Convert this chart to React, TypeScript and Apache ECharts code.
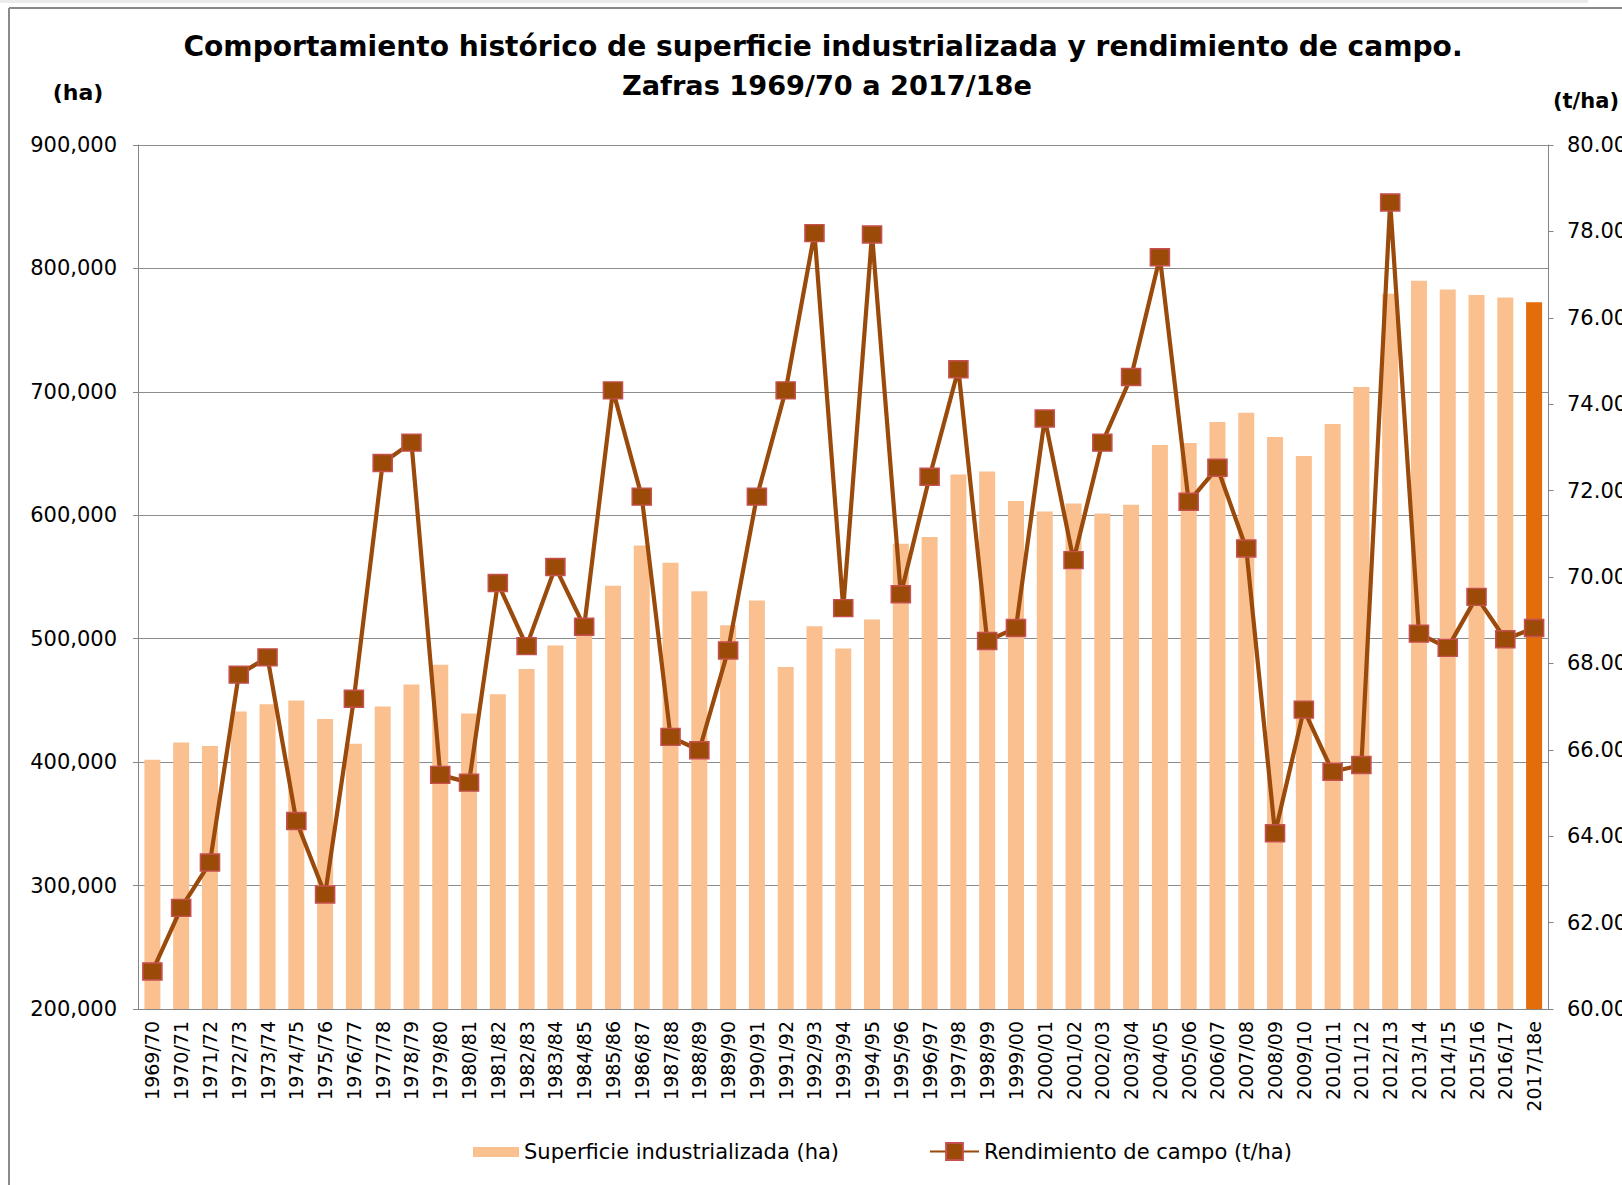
import React, { useEffect, useRef } from "react";
import * as echarts from "echarts";

const categories = [
  "1969/70", "1970/71", "1971/72", "1972/73", "1973/74", "1974/75", "1975/76", "1976/77",
  "1977/78", "1978/79", "1979/80", "1980/81", "1981/82", "1982/83", "1983/84", "1984/85",
  "1985/86", "1986/87", "1987/88", "1988/89", "1989/90", "1990/91", "1991/92", "1992/93",
  "1993/94", "1994/95", "1995/96", "1996/97", "1997/98", "1998/99", "1999/00", "2000/01",
  "2001/02", "2002/03", "2003/04", "2004/05", "2005/06", "2006/07", "2007/08", "2008/09",
  "2009/10", "2010/11", "2011/12", "2012/13", "2013/14", "2014/15", "2015/16", "2016/17",
  "2017/18e",
];

const superficie = [
  402000, 416000, 413000, 441000, 447000, 450000, 435000, 415000,
  445000, 463000, 479000, 439500, 455000, 475500, 494500, 512000,
  543000, 575500, 561500, 538500, 511000, 531000, 477000, 510000,
  492000, 515500, 577000, 582500, 633000, 635500, 611500, 603000,
  609500, 601500, 608500, 657000, 658500, 675500, 683000, 663500,
  648000, 674000, 704000, 779500, 790000, 783000, 778500, 776500,
  772500,
];

const rendimiento = [
  60.87, 62.34, 63.39, 67.74, 68.14, 64.35, 62.65, 67.18,
  72.64, 73.11, 65.42, 65.24, 69.86, 68.40, 70.23, 68.85,
  74.32, 71.86, 66.30, 65.99, 68.30, 71.86, 74.32, 77.96,
  69.28, 77.93, 69.60, 72.32, 74.81, 68.52, 68.82, 73.67,
  70.39, 73.11, 74.63, 77.40, 71.74, 72.53, 70.66, 64.07,
  66.93, 65.49, 65.65, 78.67, 68.69, 68.36, 69.54, 68.56,
  68.82,
];

const serieBarName = "Superficie industrializada (ha)";
const serieLineName = "Rendimiento de campo (t/ha)";
const titleLine1 = "Comportamiento histórico de superficie industrializada y rendimiento de campo.";
const titleLine2 = "Zafras 1969/70 a 2017/18e";

const FONT = "DejaVu Sans";
const BAR_COLOR = "#FAC090";
const BAR_LAST_COLOR = "#E46C0A";
const LINE_COLOR = "#9A4A0B";
const AXIS_COLOR = "#868686";

export default function App() {
  const ref = useRef<HTMLDivElement>(null);

  useEffect(() => {
    if (!ref.current) return;
    const chart = echarts.init(ref.current, null, { renderer: "svg" });
    const barData = superficie.map((v, i) =>
      i === superficie.length - 1 ? { value: v, itemStyle: { color: BAR_LAST_COLOR } } : v
    );
    chart.setOption({
      animation: false,
      backgroundColor: "#ffffff",
      textStyle: { fontFamily: FONT },
      grid: {
        left: 138,
        right: 73.5,
        top: 145,
        bottom: 176,
        containLabel: false,
        outerBoundsMode: "none",
      },
      graphic: [
        { type: "rect", shape: { x: 0, y: 0, width: 1588, height: 3 }, style: { fill: "#ebebeb" } },
        { type: "line", shape: { x1: 9, y1: 8, x2: 1622, y2: 8 }, style: { stroke: "#8a8a8a", lineWidth: 2 } },
        { type: "line", shape: { x1: 9, y1: 8, x2: 9, y2: 1185 }, style: { stroke: "#8a8a8a", lineWidth: 2 } },
        {
          type: "text",
          x: 823,
          y: 46.5,
          style: {
            text: titleLine1,
            fontFamily: FONT,
            fontWeight: "bold",
            fontSize: 28.1,
            fill: "#000",
            textAlign: "center",
            textVerticalAlign: "middle",
          },
        },
        {
          type: "text",
          x: 827,
          y: 85,
          style: {
            text: titleLine2,
            fontFamily: FONT,
            fontWeight: "bold",
            fontSize: 27.2,
            fill: "#000",
            textAlign: "center",
            textVerticalAlign: "middle",
          },
        },
        {
          type: "text",
          x: 78,
          y: 92,
          style: {
            text: "(ha)",
            fontFamily: FONT,
            fontWeight: "bold",
            fontSize: 22,
            fill: "#000",
            textAlign: "center",
            textVerticalAlign: "middle",
          },
        },
        {
          type: "text",
          x: 1586,
          y: 101,
          style: {
            text: "(t/ha)",
            fontFamily: FONT,
            fontWeight: "bold",
            fontSize: 21,
            fill: "#000",
            textAlign: "center",
            textVerticalAlign: "middle",
          },
        },
      ],
      legend: [
        {
          data: [{ name: serieBarName, icon: "rect" }],
          left: 473,
          top: 1141.5,
          padding: 0,
          itemWidth: 46,
          itemHeight: 10,
          textStyle: { fontFamily: FONT, fontSize: 21, color: "#000" },
        },
        {
          data: [serieLineName],
          left: 929,
          top: 1141,
          padding: 0,
          itemWidth: 49,
          itemHeight: 21,
          textStyle: { fontFamily: FONT, fontSize: 21, color: "#000" },
        },
      ],
      xAxis: {
        type: "category",
        data: categories,
        boundaryGap: true,
        axisLine: { show: true, lineStyle: { color: AXIS_COLOR, width: 1 } },
        axisTick: { show: false },
        axisLabel: {
          interval: 0,
          rotate: 90,
          margin: 12,
          fontSize: 19,
          color: "#000",
          fontFamily: FONT,
        },
      },
      yAxis: [
        {
          type: "value",
          position: "left",
          min: 200000,
          max: 900000,
          interval: 100000,
          axisLine: { show: true, lineStyle: { color: AXIS_COLOR, width: 1 } },
          axisTick: { show: true, inside: false, length: 5, lineStyle: { color: AXIS_COLOR } },
          axisLabel: {
            margin: 21,
            fontSize: 21,
            color: "#000",
            fontFamily: FONT,
            formatter: (v: number) => v.toLocaleString("en-US"),
          },
          splitLine: { show: true, lineStyle: { color: "#8c8c8c", width: 1 } },
        },
        {
          type: "value",
          position: "right",
          min: 60,
          max: 80,
          interval: 2,
          axisLine: { show: true, lineStyle: { color: AXIS_COLOR, width: 1 } },
          axisTick: { show: true, inside: false, length: 5, lineStyle: { color: AXIS_COLOR } },
          axisLabel: {
            margin: 18.5,
            fontSize: 21,
            color: "#000",
            fontFamily: FONT,
            formatter: (v: number) => v.toFixed(2),
          },
          splitLine: { show: false },
        },
      ],
      series: [
        {
          name: serieBarName,
          type: "bar",
          yAxisIndex: 0,
          data: barData,
          barWidth: 16,
          itemStyle: { color: BAR_COLOR },
          z: 2,
        },
        {
          name: serieLineName,
          type: "line",
          yAxisIndex: 1,
          data: rendimiento,
          symbol: "rect",
          symbolSize: [19, 17],
          lineStyle: { color: LINE_COLOR, width: 4.2 },
          itemStyle: { color: "#9C4A08", borderColor: "#C5504F", borderWidth: 1.5 },
          z: 5,
        },
      ],
    });
    return () => chart.dispose();
  }, []);

  return (
    <div
      ref={ref}
      style={{ position: "fixed", left: 0, top: 0, width: 1622, height: 1185, overflow: "hidden" }}
    />
  );
}
